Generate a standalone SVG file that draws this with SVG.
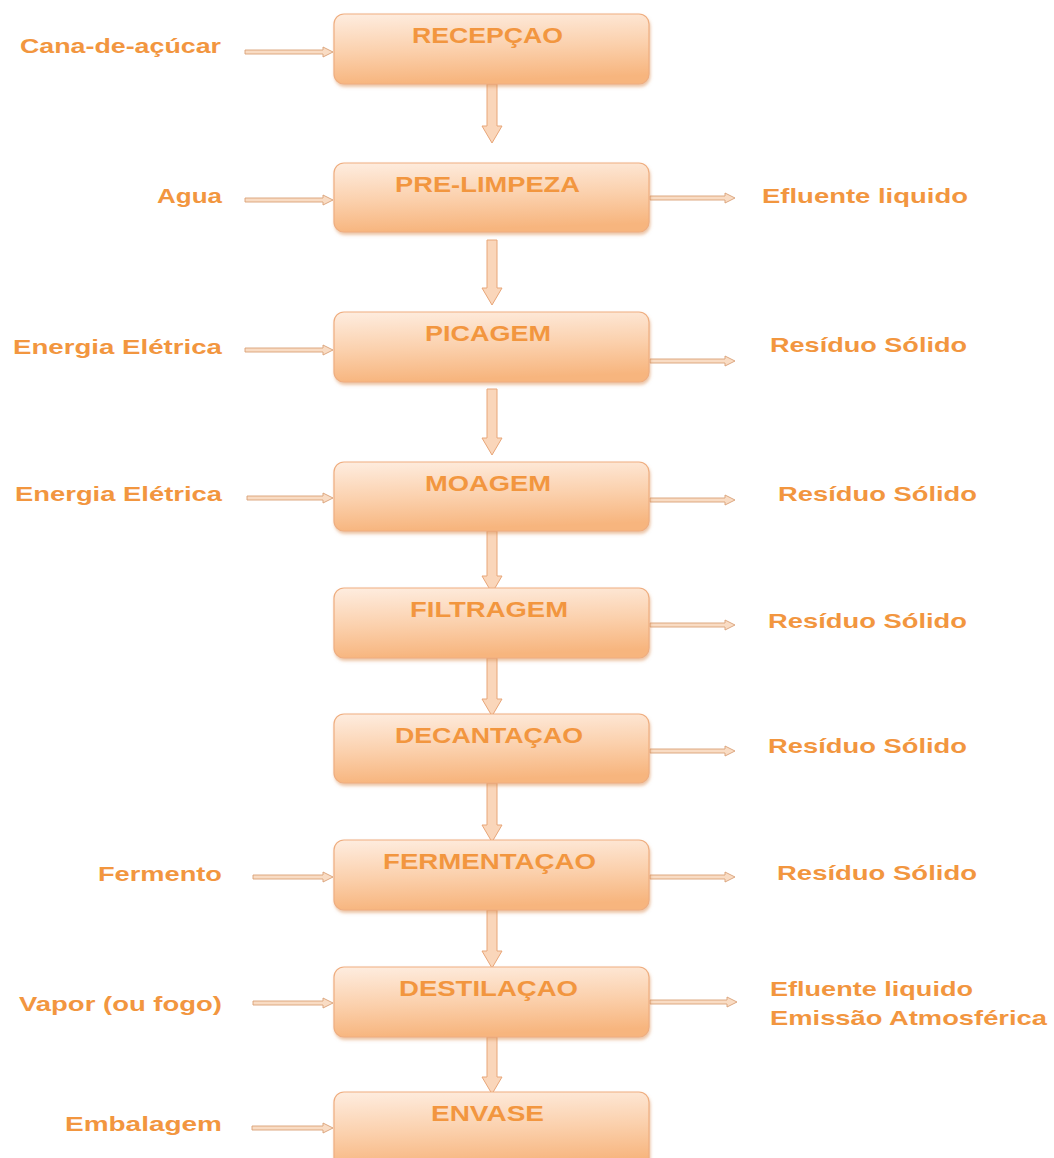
<svg xmlns="http://www.w3.org/2000/svg" width="1054" height="1158" viewBox="0 0 1054 1158">
<style>
.box{fill:url(#g);stroke:#EFAE80;stroke-width:1.2;filter:url(#sh)}
.bt{font-family:"Liberation Sans",Arial,sans-serif;font-weight:bold;font-size:22px;fill:#F2963F;text-anchor:start}
.lt{font-family:"Liberation Sans",Arial,sans-serif;font-weight:bold;font-size:21px;fill:#F2963F}
.va{fill:#FAD6BA;stroke:#E8A678;stroke-width:1}
.ha{fill:#F9DCC4;stroke:#D9A077;stroke-width:0.9}
</style>
<defs>
<linearGradient id="g" x1="0" y1="0" x2="0.15" y2="1">
<stop offset="0" stop-color="#FEEDE0"/>
<stop offset="0.55" stop-color="#FBD0AC"/>
<stop offset="1" stop-color="#F7B57E"/>
</linearGradient>
<filter id="sh" x="-5%" y="-10%" width="112%" height="130%">
<feDropShadow dx="1" dy="2.5" stdDeviation="1.8" flood-color="#D98A50" flood-opacity="0.5"/>
</filter>
</defs>

<g id="connectors">
<path class="va" d="M487,84 L497,84 L497,126 L502,126 L492,143 L482,126 L487,126 Z"/>
<path class="va" d="M487,240 L497,240 L497,288 L502,288 L492,305 L482,288 L487,288 Z"/>
<path class="va" d="M487,389 L497,389 L497,438 L502,438 L492,455 L482,438 L487,438 Z"/>
<path class="va" d="M487,531 L497,531 L497,576 L502,576 L492,593 L482,576 L487,576 Z"/>
<path class="va" d="M487,658 L497,658 L497,699 L502,699 L492,716 L482,699 L487,699 Z"/>
<path class="va" d="M487,783 L497,783 L497,825 L502,825 L492,842 L482,825 L487,825 Z"/>
<path class="va" d="M487,910 L497,910 L497,951 L502,951 L492,968 L482,951 L487,951 Z"/>
<path class="va" d="M487,1037 L497,1037 L497,1077 L502,1077 L492,1094 L482,1077 L487,1077 Z"/>
<path class="ha" d="M245,50 L323,50 L323,47 L333,52 L323,57 L323,54 L245,54 Z"/>
<path class="ha" d="M245,198 L323,198 L323,195 L333,200 L323,205 L323,202 L245,202 Z"/>
<path class="ha" d="M245,348 L323,348 L323,345 L333,350 L323,355 L323,352 L245,352 Z"/>
<path class="ha" d="M247,496 L323,496 L323,493 L333,498 L323,503 L323,500 L247,500 Z"/>
<path class="ha" d="M253,875 L323,875 L323,872 L333,877 L323,882 L323,879 L253,879 Z"/>
<path class="ha" d="M253,1001 L323,1001 L323,998 L333,1003 L323,1008 L323,1005 L253,1005 Z"/>
<path class="ha" d="M252,1126 L323,1126 L323,1123 L333,1128 L323,1133 L323,1130 L252,1130 Z"/>
<path class="ha" d="M650,196 L725,196 L725,193 L735,198 L725,203 L725,200 L650,200 Z"/>
<path class="ha" d="M650,359 L725,359 L725,356 L735,361 L725,366 L725,363 L650,363 Z"/>
<path class="ha" d="M650,498 L725,498 L725,495 L735,500 L725,505 L725,502 L650,502 Z"/>
<path class="ha" d="M650,623 L725,623 L725,620 L735,625 L725,630 L725,627 L650,627 Z"/>
<path class="ha" d="M650,749 L725,749 L725,746 L735,751 L725,756 L725,753 L650,753 Z"/>
<path class="ha" d="M650,875 L725,875 L725,872 L735,877 L725,882 L725,879 L650,879 Z"/>
<path class="ha" d="M650,1000 L727,1000 L727,997 L737,1002 L727,1007 L727,1004 L650,1004 Z"/>
</g>

<g id="n-recepcao"><rect class="box" x="334" y="14" width="315" height="70" rx="10"/><text class="bt" x="412" y="43" textLength="151" lengthAdjust="spacingAndGlyphs">RECEPÇAO</text></g>
<g id="n-prelimpeza"><rect class="box" x="334" y="163" width="315" height="69" rx="10"/><text class="bt" x="395" y="192" textLength="185" lengthAdjust="spacingAndGlyphs">PRE-LIMPEZA</text></g>
<g id="n-picagem"><rect class="box" x="334" y="312" width="315" height="70" rx="10"/><text class="bt" x="425" y="341" textLength="126" lengthAdjust="spacingAndGlyphs">PICAGEM</text></g>
<g id="n-moagem"><rect class="box" x="334" y="462" width="315" height="69" rx="10"/><text class="bt" x="425" y="491" textLength="126" lengthAdjust="spacingAndGlyphs">MOAGEM</text></g>
<g id="n-filtragem"><rect class="box" x="334" y="588" width="315" height="70" rx="10"/><text class="bt" x="410" y="617" textLength="158" lengthAdjust="spacingAndGlyphs">FILTRAGEM</text></g>
<g id="n-decantacao"><rect class="box" x="334" y="714" width="315" height="69" rx="10"/><text class="bt" x="395" y="743" textLength="188" lengthAdjust="spacingAndGlyphs">DECANTAÇAO</text></g>
<g id="n-fermentacao"><rect class="box" x="334" y="840" width="315" height="70" rx="10"/><text class="bt" x="383" y="869" textLength="213" lengthAdjust="spacingAndGlyphs">FERMENTAÇAO</text></g>
<g id="n-destilacao"><rect class="box" x="334" y="967" width="315" height="70" rx="10"/><text class="bt" x="399" y="996" textLength="179" lengthAdjust="spacingAndGlyphs">DESTILAÇAO</text></g>
<g id="n-envase"><rect class="box" x="334" y="1092" width="315" height="76" rx="10"/><text class="bt" x="431" y="1121" textLength="113" lengthAdjust="spacingAndGlyphs">ENVASE</text></g>

<g id="inputs">
<text class="lt" x="20" y="53" textLength="201" lengthAdjust="spacingAndGlyphs">Cana-de-açúcar</text>
<text class="lt" x="157" y="203" textLength="65" lengthAdjust="spacingAndGlyphs">Agua</text>
<text class="lt" x="13" y="354" textLength="209" lengthAdjust="spacingAndGlyphs">Energia Elétrica</text>
<text class="lt" x="15" y="501" textLength="207" lengthAdjust="spacingAndGlyphs">Energia Elétrica</text>
<text class="lt" x="98" y="881" textLength="124" lengthAdjust="spacingAndGlyphs">Fermento</text>
<text class="lt" x="19" y="1011" textLength="203" lengthAdjust="spacingAndGlyphs">Vapor (ou fogo)</text>
<text class="lt" x="65" y="1131" textLength="157" lengthAdjust="spacingAndGlyphs">Embalagem</text>
</g>

<g id="outputs">
<text class="lt" x="762" y="203" textLength="206" lengthAdjust="spacingAndGlyphs">Efluente liquido</text>
<text class="lt" x="770" y="352" textLength="197" lengthAdjust="spacingAndGlyphs">Resíduo Sólido</text>
<text class="lt" x="778" y="501" textLength="199" lengthAdjust="spacingAndGlyphs">Resíduo Sólido</text>
<text class="lt" x="768" y="628" textLength="199" lengthAdjust="spacingAndGlyphs">Resíduo Sólido</text>
<text class="lt" x="768" y="753" textLength="199" lengthAdjust="spacingAndGlyphs">Resíduo Sólido</text>
<text class="lt" x="777" y="880" textLength="200" lengthAdjust="spacingAndGlyphs">Resíduo Sólido</text>
<text class="lt" x="770" y="996" textLength="203" lengthAdjust="spacingAndGlyphs">Efluente liquido</text>
<text class="lt" x="770" y="1025" textLength="277" lengthAdjust="spacingAndGlyphs">Emissão Atmosférica</text>
</g>
</svg>
